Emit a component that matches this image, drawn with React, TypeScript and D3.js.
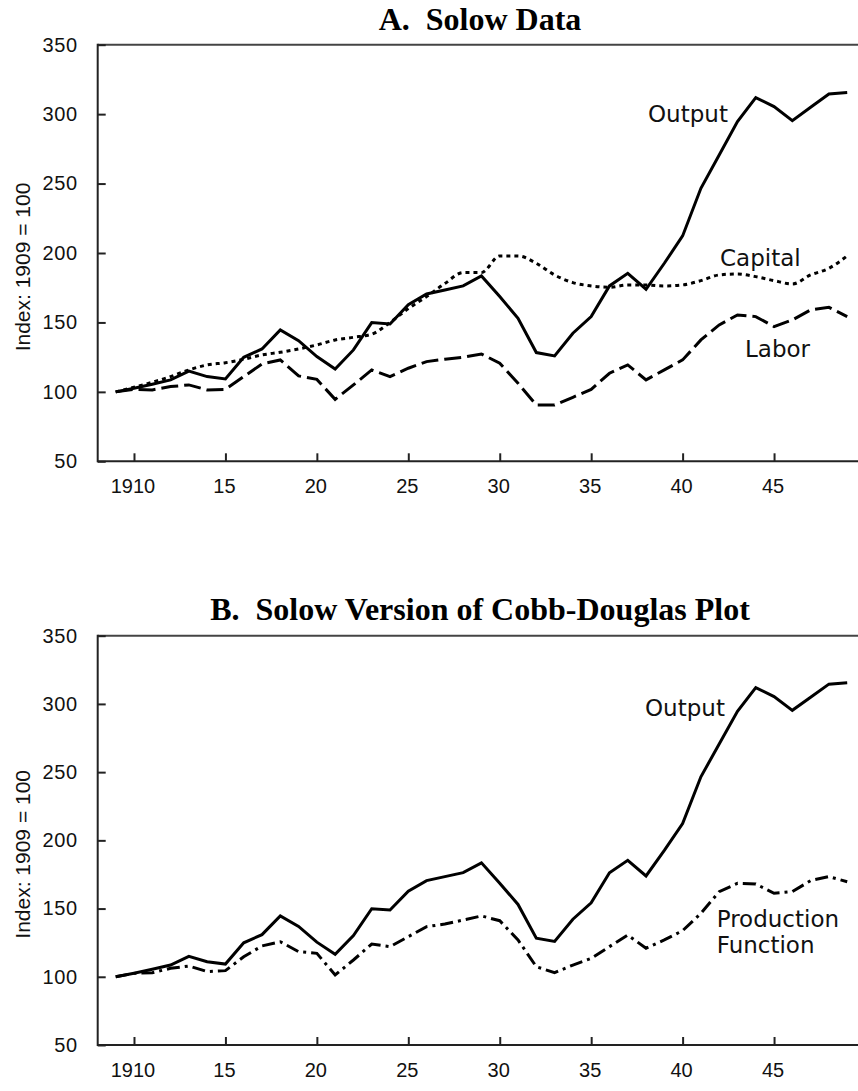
import { useEffect, useRef } from "react";
import * as d3 from "d3";

// years 1909..1949, index 1909 = 100
const years = d3.range(1909, 1950);

const output = [
  100, 102.6, 105.5, 108.6, 115, 111, 109.3, 124.9, 130.9, 144.6, 136.9, 125.4,
  116.5, 130.2, 149.9, 148.9, 162.8, 170.5, 173.4, 176.3, 183.5, 168.6, 153,
  128.3, 125.9, 142.2, 154.2, 176.3, 185.4, 173.9, 192.6, 212.3, 246.6, 270.6,
  294.6, 311.9, 305.4, 295.3, 304.9, 314.5, 315.5,
];

const capital = [
  100, 103.3, 106.9, 111, 115.8, 119.4, 121, 123.5, 126.6, 128.5, 130.9, 133.8,
  137.4, 139.3, 141.5, 150, 160, 168.6, 178, 185.9, 185.9, 197.9, 197.9, 192.6,
  184.2, 178.7, 176.3, 175.3, 177, 177, 176.3, 177, 180.1, 184.2, 184.9, 183,
  180.1, 177.7, 184.2, 189, 197.9,
];

const labor = [
  100, 101.8, 101.4, 103.8, 105, 101.4, 101.8, 111, 120.1, 123, 111.5, 109,
  94.6, 105, 115.8, 111, 117, 121.8, 123.5, 124.9, 127.3, 120.6, 106.2, 90.6,
  90.6, 96.1, 101.8, 113.4, 119.4, 108.6, 115.8, 123, 137.4, 148.2, 155.4,
  154.2, 147, 151.8, 159, 160.9, 154.2,
];

const productionFunction = [
  100, 102.5, 103, 106.2, 107.9, 103.8, 104.5, 114.7, 122.6, 125.7, 118.4,
  117.2, 101.3, 112.3, 124, 122.1, 129.4, 136.7, 138.7, 141.6, 144.6, 141.1,
  127, 107.4, 103, 108.6, 113.5, 122.1, 130.6, 120.9, 127, 133.8, 146.5, 162.4,
  168.5, 168, 161.2, 162.4, 170.5, 173.4, 169.7,
];

const xTickValues = [1910, 1915, 1920, 1925, 1930, 1935, 1940, 1945];
const xTickLabels = ["1910", "15", "20", "25", "30", "35", "40", "45"];
const yTickValues = [50, 100, 150, 200, 250, 300, 350];
const yAxisTitle = "Index: 1909 = 100";
const titleA = "A.  Solow Data";
const titleB = "B.  Solow Version of Cobb-Douglas Plot";

const W = 858;
const H = 1091;
const LEFT = 97.7;
const RIGHT = 858;

const tickFont = "'Liberation Sans', Arial, sans-serif";
const labelFont = "'DejaVu Sans', sans-serif";
const titleFont = "'Liberation Serif', 'Times New Roman', serif";

type Series = { values: number[]; dash: string | null; curve?: d3.CurveFactory };
type Note = { lines: string[]; x: number; y: number };

export default function App() {
  const svgRef = useRef<SVGSVGElement>(null);

  useEffect(() => {
    const svg = d3.select(svgRef.current);
    svg.selectAll("*").remove();

    const x = d3.scaleLinear().domain([1909, 1949]).range([115.7, 847.2]);

    const drawPanel = (
      top: number,
      bottom: number,
      title: string,
      titleY: number,
      series: Series[],
      notes: Note[]
    ) => {
      const y = d3.scaleLinear().domain([50, 350]).range([bottom, top]);
      const g = svg.append("g");

      g.append("text")
        .attr("x", 480)
        .attr("y", titleY)
        .attr("text-anchor", "middle")
        .style("white-space", "pre")
        .attr("font-family", titleFont)
        .attr("font-weight", "bold")
        .attr("font-size", 32)
        .text(title);

      // frame: top border, left axis, bottom axis
      g.append("line")
        .attr("x1", LEFT).attr("x2", RIGHT)
        .attr("y1", top).attr("y2", top)
        .attr("stroke", "#444").attr("stroke-width", 2);
      g.append("line")
        .attr("x1", LEFT).attr("x2", RIGHT)
        .attr("y1", bottom).attr("y2", bottom)
        .attr("stroke", "#222").attr("stroke-width", 2);
      g.append("line")
        .attr("x1", LEFT).attr("x2", LEFT)
        .attr("y1", top - 1).attr("y2", bottom + 1)
        .attr("stroke", "#222").attr("stroke-width", 2);

      const yAxis = d3
        .axisLeft(y)
        .tickValues(yTickValues)
        .tickSizeInner(-8)
        .tickSizeOuter(0)
        .tickPadding(20)
        .tickFormat(d3.format("d"));
      const ya = g.append("g").attr("transform", `translate(${LEFT},0)`).call(yAxis);
      ya.select(".domain").remove();
      ya.selectAll("line").attr("stroke", "#222").attr("stroke-width", 2);
      ya.selectAll("text")
        .attr("font-family", tickFont)
        .attr("font-size", 20)
        .attr("letter-spacing", 0.6)
        .attr("fill", "#111");

      const xAxis = d3
        .axisBottom(x)
        .tickValues(xTickValues)
        .tickSizeInner(-8)
        .tickSizeOuter(0)
        .tickPadding(18)
        .tickFormat((_d, i) => xTickLabels[i]);
      const xa = g.append("g").attr("transform", `translate(0,${bottom})`).call(xAxis);
      xa.select(".domain").remove();
      xa.selectAll("line").attr("stroke", "#222").attr("stroke-width", 2);
      xa.selectAll("text")
        .attr("font-family", tickFont)
        .attr("font-size", 20)
        .attr("dx", -1.5)
        .attr("fill", "#111");

      g.append("text")
        .attr("transform", `translate(30,${(top + bottom) / 2 + 14}) rotate(-90)`)
        .attr("text-anchor", "middle")
        .attr("font-family", tickFont)
        .attr("font-size", 21)
        .attr("fill", "#111")
        .text(yAxisTitle);

      series.forEach((s) => {
        const line = d3
          .line<number>()
          .x((_d, i) => x(years[i]))
          .y((d) => y(d))
          .curve(s.curve ?? d3.curveLinear);
        g.append("path")
          .datum(s.values)
          .attr("d", line)
          .attr("fill", "none")
          .attr("stroke", "#000")
          .attr("stroke-width", 3)
          .attr("stroke-linejoin", "miter")
          .attr("stroke-dasharray", s.dash);
      });

      notes.forEach((n) => {
        const t = g.append("text")
          .attr("x", n.x)
          .attr("y", n.y)
          .attr("font-family", labelFont)
          .attr("font-size", 23)
          .attr("fill", "#111");
        n.lines.forEach((ln, i) => {
          t.append("tspan").attr("x", n.x).attr("dy", i === 0 ? 0 : 26).text(ln);
        });
      });
    };

    drawPanel(
      44.7,
      461.3,
      titleA,
      29.5,
      [
        { values: output, dash: null },
        { values: capital, dash: "4,4", curve: d3.curveMonotoneX },
        { values: labor, dash: "17,6" },
      ],
      [
        { lines: ["Output"], x: 648, y: 121.7 },
        { lines: ["Capital"], x: 720, y: 265.7 },
        { lines: ["Labor"], x: 745, y: 356.7 },
      ]
    );

    drawPanel(
      635.7,
      1045,
      titleB,
      620,
      [
        { values: output, dash: null },
        { values: productionFunction, dash: "13,5,3,5" },
      ],
      [
        { lines: ["Output"], x: 645, y: 716 },
        { lines: ["Production", "Function"], x: 716.7, y: 926.7 },
      ]
    );
  }, []);

  return (
    <svg
      ref={svgRef}
      width={W}
      height={H}
      style={{ position: "absolute", left: 0, top: 0, background: "#fff" }}
    />
  );
}
